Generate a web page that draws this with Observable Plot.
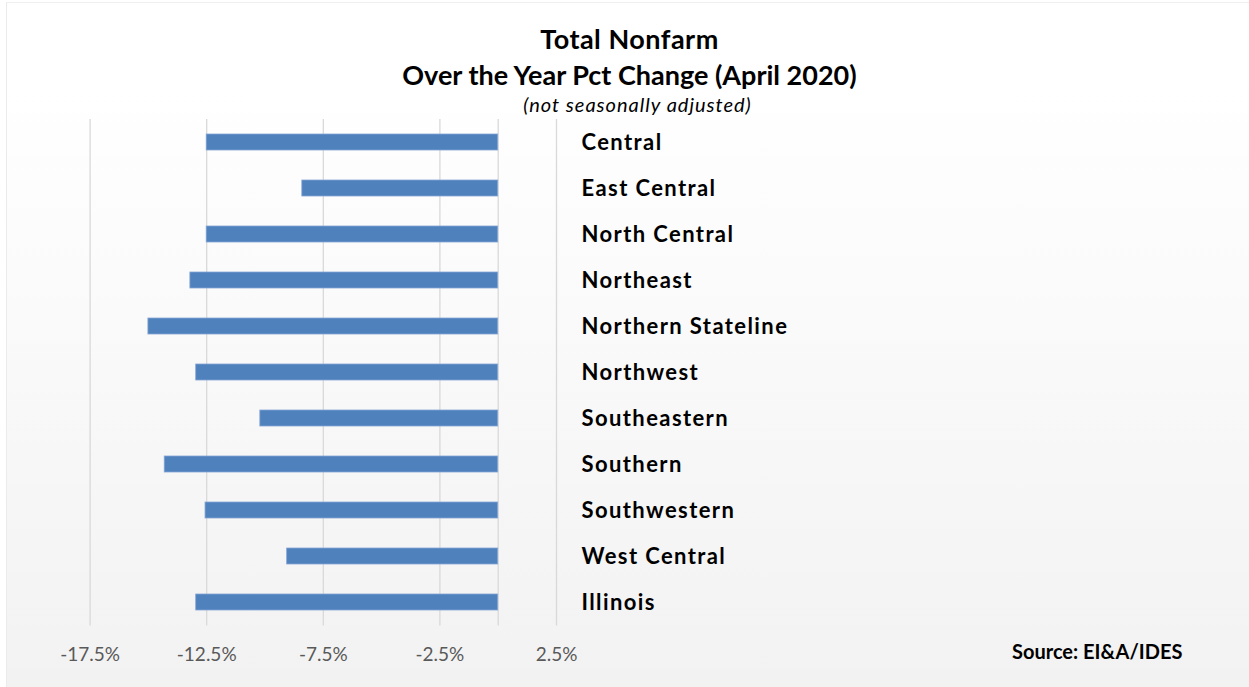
<!DOCTYPE html>
<html>
<head>
<meta charset="utf-8">
<script src="https://cdn.jsdelivr.net/npm/d3@7"></script>
<script src="https://cdn.jsdelivr.net/npm/@observablehq/plot@0.6"></script>
<style>
  html, body { margin: 0; padding: 0; background: #fff; }
  #page { position: relative; width: 1249px; height: 687px; overflow: hidden; font-family: Lato, "Open Sans", sans-serif; }
  #panel { position: absolute; left: 6px; top: 2px; width: 1243px; height: 685px;
           border-left: 1.5px solid #ebebeb; border-top: 1.5px solid #efefef;
           background: linear-gradient(to bottom, #ffffff 0%, #ffffff 12%, #f2f2f2 100%); }
  .t { position: absolute; left: 0; width: 1249px; text-align: center; color: #000; line-height: 1.2; white-space: nowrap; }
  #chart { position: absolute; left: 0; top: 119px; }
  #chart g[aria-label="y-axis tick label"] { letter-spacing: 1.4px; }
  #source { position: absolute; left: 1012px; top: 639px; font-size: 20px; font-weight: bold; color: #000; line-height: 1.2; white-space: nowrap; }
</style>
</head>
<body>
<div id="page">
  <div id="panel"></div>
  <div class="t" id="t1" style="top:23px; font-size:27px; font-weight:bold; margin-left:5px; letter-spacing:0.5px;">Total Nonfarm</div>
  <div class="t" id="t2" style="top:59px; font-size:27px; font-weight:bold; margin-left:5px;">Over the Year Pct Change (April 2020)</div>
  <div class="t" id="t3" style="top:92px; font-size:20px; font-style:italic; margin-left:13px; letter-spacing:1px;">(not seasonally adjusted)</div>
  <div id="chart"></div>
  <div id="source">Source: EI&amp;A/IDES</div>
</div>
<script>
const regions = ["Central", "East Central", "North Central", "Northeast", "Northern Stateline", "Northwest",
                 "Southeastern", "Southern", "Southwestern", "West Central", "Illinois"];
const values = [-12.5, -8.4, -12.5, -13.2, -15.0, -12.95, -10.2, -14.3, -12.55, -9.05, -12.95];
const tickValues = [-17.5, -12.5, -7.5, -2.5, 2.5];
const tickLabels = ["-17.5%", "-12.5%", "-7.5%", "-2.5%", "2.5%"];

const data = regions.map((r, i) => ({region: r, value: values[i]}));

const plot = Plot.plot({
  width: 1249,
  height: 568,
  marginTop: 0,
  marginBottom: 61.5,
  marginLeft: 89.6,
  marginRight: 693,
  style: {background: "transparent", fontFamily: "Lato, 'Open Sans', sans-serif", overflow: "visible"},
  x: {domain: [-17.5, 2.5]},
  y: {domain: regions, paddingInner: 0.645, paddingOuter: 0.3225},
  marks: [
    Plot.gridX(tickValues, {stroke: "#d9d9d9", strokeOpacity: 1, strokeWidth: 1.3}),
    Plot.ruleX([0], {stroke: "#d9d9d9", strokeWidth: 1.3}),
    Plot.barX(data, {x: "value", y: "region", fill: "#4f81bd", stroke: "#86a6d4", strokeWidth: 0.8}),
    Plot.axisX({ticks: tickValues, tickFormat: d => tickLabels[tickValues.indexOf(d)], tickSize: 0, tickPadding: 21,
                fontSize: 19, fill: "#595959", label: null}),
    Plot.axisY({anchor: "right", tickSize: 0, tickPadding: 25, fontSize: 22, fontWeight: "bold", fill: "#000", label: null})
  ]
});
document.getElementById("chart").appendChild(plot);
</script>
</body>
</html>
